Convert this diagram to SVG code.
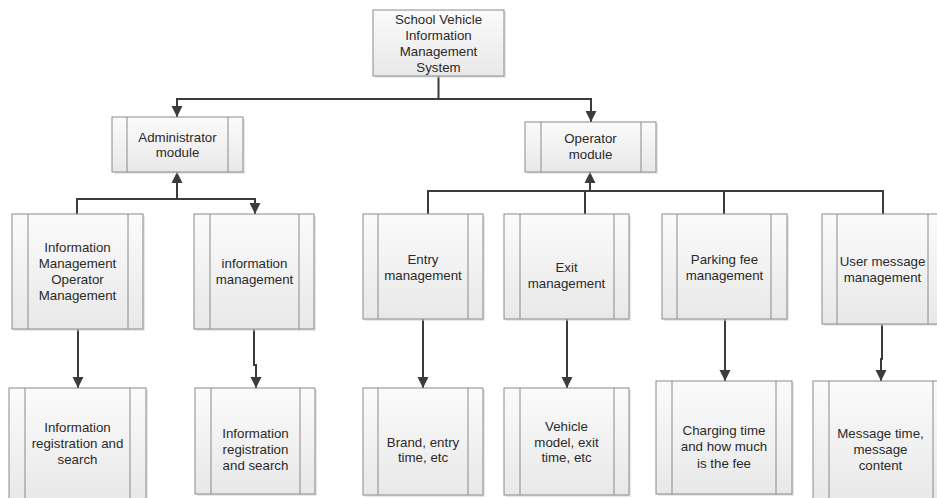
<svg xmlns="http://www.w3.org/2000/svg" width="937" height="498" viewBox="0 0 937 498">
<style>
.bx{fill:url(#g);stroke:#8a8a8a;stroke-width:1}
.sh{fill:#d4d4d4;opacity:0.55}
.in{stroke:#8a8a8a;stroke-width:1;fill:none}
.t{font-family:"Liberation Sans",Arial,sans-serif;font-size:13.3px;fill:#2a2a2a;text-anchor:middle}
.c{fill:none;stroke:#3c3c3c;stroke-width:2}
.ca{fill:none;stroke:#3c3c3c;stroke-width:2;marker-end:url(#ah)}
</style>
<defs>
<linearGradient id="g" x1="0" y1="0" x2="0" y2="1">
<stop offset="0" stop-color="#fbfbfb"/>
<stop offset="1" stop-color="#e8e8e8"/>
</linearGradient>
<marker id="ah" markerUnits="userSpaceOnUse" markerWidth="12" markerHeight="12" viewBox="0 0 12 12" refX="11" refY="6" orient="auto">
<path d="M0,0.5 L11,6 L0,11.5 Z" fill="#3c3c3c"/>
</marker>
</defs>
<rect width="937" height="498" fill="#ffffff"/>

<g id="connectors">
<path class="ca" d="M438.5 76 V99 H177 V117"/>
<path class="ca" d="M438.5 99 H591 V122"/>
<path class="ca" d="M77 214 V199 H177 V172"/>
<path class="ca" d="M177 199 H255 V214"/>
<path class="ca" d="M428 214 V191 H590 V172"/>
<path class="c" d="M585 214 V191"/>
<path class="c" d="M724 214 V191"/>
<path class="c" d="M883 214 V191 H590"/>
<path class="ca" d="M78 329 V388"/>
<path class="ca" d="M254 329 V365 H256 V388"/>
<path class="ca" d="M423 319 V388"/>
<path class="ca" d="M567 319 V388"/>
<path class="ca" d="M725 319 V381"/>
<path class="ca" d="M882 324 V359 H881 V381"/>
</g>

<g id="system">
<rect class="sh" x="375" y="12" width="131" height="66"/>
<rect class="bx" x="373" y="10" width="131" height="66"/>
<text class="t" x="438.5" y="24">School Vehicle</text>
<text class="t" x="438.5" y="40">Information</text>
<text class="t" x="438.5" y="56">Management</text>
<text class="t" x="438.5" y="72">System</text>
</g>

<g id="admin">
<rect class="sh" x="114" y="119" width="131" height="55"/>
<rect class="bx" x="112" y="117" width="131" height="55"/>
<path class="in" d="M127 117 V172 M228 117 V172"/>
<text class="t" x="177.5" y="142">Administrator</text>
<text class="t" x="177.5" y="157">module</text>
</g>

<g id="operator">
<rect class="sh" x="527" y="124" width="131" height="50"/>
<rect class="bx" x="525" y="122" width="131" height="50"/>
<path class="in" d="M541 122 V172 M641 122 V172"/>
<text class="t" x="590.5" y="143">Operator</text>
<text class="t" x="590.5" y="159">module</text>
</g>

<g id="info-operator-mgmt">
<rect class="sh" x="14" y="216" width="131" height="115"/>
<rect class="bx" x="12" y="214" width="131" height="115"/>
<path class="in" d="M28 214 V329 M128 214 V329"/>
<text class="t" x="77.5" y="252">Information</text>
<text class="t" x="77.5" y="268">Management</text>
<text class="t" x="77.5" y="284">Operator</text>
<text class="t" x="77.5" y="300">Management</text>
</g>

<g id="info-mgmt">
<rect class="sh" x="196" y="216" width="120" height="115"/>
<rect class="bx" x="194" y="214" width="120" height="115"/>
<path class="in" d="M210 214 V329 M299 214 V329"/>
<text class="t" x="254.5" y="268">information</text>
<text class="t" x="254.5" y="284">management</text>
</g>

<g id="entry">
<rect class="sh" x="365" y="216" width="120" height="105"/>
<rect class="bx" x="363" y="214" width="120" height="105"/>
<path class="in" d="M378 214 V319 M468 214 V319"/>
<text class="t" x="423" y="264">Entry</text>
<text class="t" x="423" y="280">management</text>
</g>

<g id="exit">
<rect class="sh" x="506" y="216" width="125" height="105"/>
<rect class="bx" x="504" y="214" width="125" height="105"/>
<path class="in" d="M520 214 V319 M614 214 V319"/>
<text class="t" x="566.5" y="272">Exit</text>
<text class="t" x="566.5" y="288">management</text>
</g>

<g id="parking">
<rect class="sh" x="664" y="216" width="125" height="105"/>
<rect class="bx" x="662" y="214" width="125" height="105"/>
<path class="in" d="M677 214 V319 M771 214 V319"/>
<text class="t" x="724.5" y="264">Parking fee</text>
<text class="t" x="724.5" y="280">management</text>
</g>

<g id="user-message">
<rect class="sh" x="824" y="216" width="122" height="110"/>
<rect class="bx" x="822" y="214" width="122" height="110"/>
<path class="in" d="M837 214 V324 M928 214 V324"/>
<text class="t" x="882.5" y="266">User message</text>
<text class="t" x="882.5" y="282">management</text>
</g>

<g id="registration-1">
<rect class="sh" x="11" y="390" width="137" height="115"/>
<rect class="bx" x="9" y="388" width="137" height="115"/>
<path class="in" d="M25 388 V503 M130 388 V503"/>
<text class="t" x="77.5" y="432">Information</text>
<text class="t" x="77.5" y="448">registration and</text>
<text class="t" x="77.5" y="463.5">search</text>
</g>

<g id="registration-2">
<rect class="sh" x="197" y="390" width="120" height="106"/>
<rect class="bx" x="195" y="388" width="120" height="106"/>
<path class="in" d="M211 388 V494 M300 388 V494"/>
<text class="t" x="255.5" y="438">Information</text>
<text class="t" x="255.5" y="454">registration</text>
<text class="t" x="255.5" y="470">and search</text>
</g>

<g id="brand">
<rect class="sh" x="365" y="390" width="120" height="107"/>
<rect class="bx" x="363" y="388" width="120" height="107"/>
<path class="in" d="M378 388 V495 M468 388 V495"/>
<text class="t" x="423" y="447">Brand, entry</text>
<text class="t" x="423" y="462">time, etc</text>
</g>

<g id="vehicle-model">
<rect class="sh" x="506" y="390" width="125" height="107"/>
<rect class="bx" x="504" y="388" width="125" height="107"/>
<path class="in" d="M520 388 V495 M614 388 V495"/>
<text class="t" x="566.5" y="431">Vehicle</text>
<text class="t" x="566.5" y="447">model, exit</text>
<text class="t" x="566.5" y="462">time, etc</text>
</g>

<g id="charging">
<rect class="sh" x="658" y="383" width="136" height="113"/>
<rect class="bx" x="656" y="381" width="136" height="113"/>
<path class="in" d="M672 381 V494 M776 381 V494"/>
<text class="t" x="724" y="435">Charging time</text>
<text class="t" x="724" y="451">and how much</text>
<text class="t" x="724" y="467.5">is the fee</text>
</g>

<g id="message-content">
<rect class="sh" x="815" y="383" width="135" height="120"/>
<rect class="bx" x="813" y="381" width="135" height="120"/>
<path class="in" d="M829 381 V501 M933 381 V501"/>
<text class="t" x="880.5" y="438">Message time,</text>
<text class="t" x="880.5" y="454">message</text>
<text class="t" x="880.5" y="470">content</text>
</g>
</svg>
